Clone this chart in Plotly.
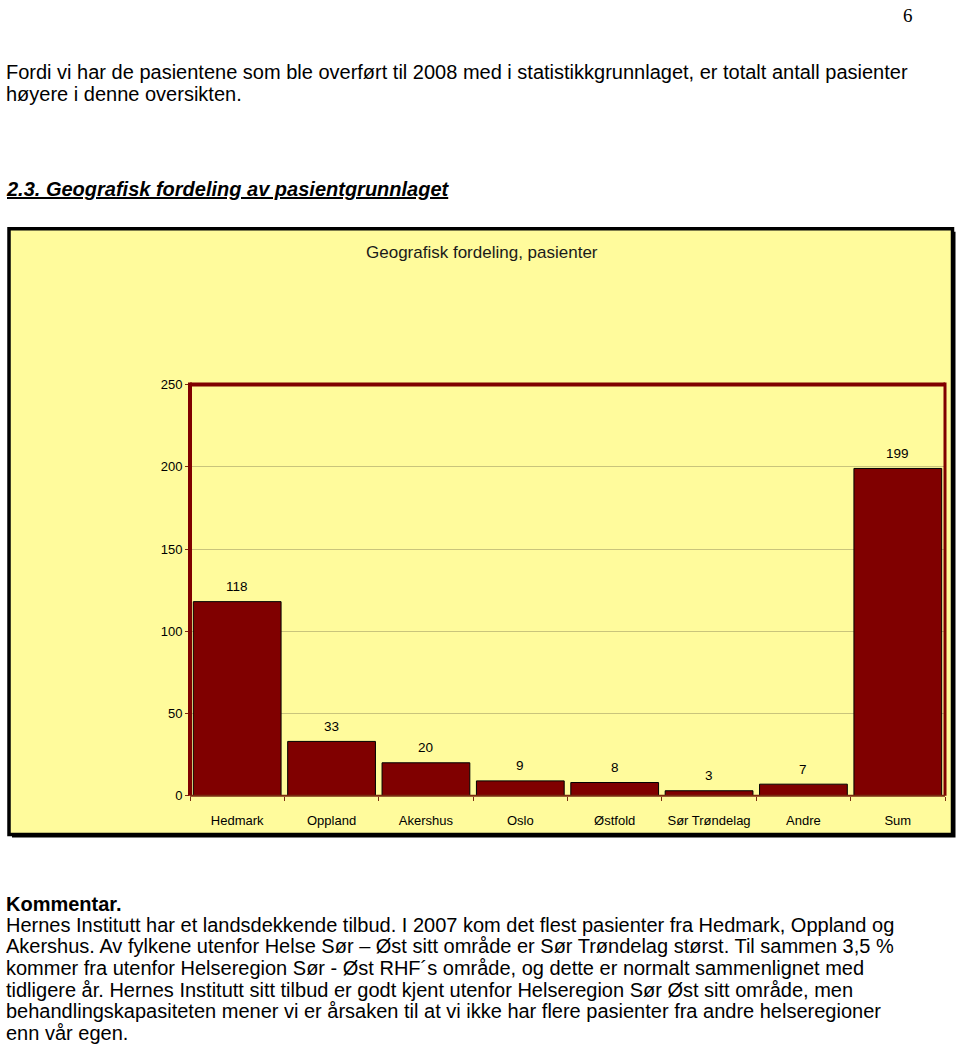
import plotly.graph_objects as go

# ---- data ----
categories = ["Hedmark", "Oppland", "Akershus", "Oslo", "Østfold", "Sør Trøndelag", "Andre", "Sum"]
values = [118, 33, 20, 9, 8, 3, 7, 199]
y_ticks = [0, 50, 100, 150, 200, 250]
chart_title = "Geografisk fordeling, pasienter"

page_number = "6"
intro_lines = [
    "Fordi vi har de pasientene som ble overført til 2008 med i statistikkgrunnlaget, er totalt antall pasienter",
    "høyere i denne oversikten.",
]
heading = "2.3. Geografisk fordeling av pasientgrunnlaget"
comment_title = "Kommentar."
comment_lines = [
    "Hernes Institutt har et landsdekkende tilbud. I 2007 kom det flest pasienter fra Hedmark, Oppland og",
    "Akershus. Av fylkene utenfor Helse Sør – Øst sitt område er Sør Trøndelag størst. Til sammen 3,5 %",
    "kommer fra utenfor Helseregion Sør - Øst RHF´s område, og dette er normalt sammenlignet med",
    "tidligere år. Hernes Institutt sitt tilbud er godt kjent utenfor Helseregion Sør Øst sitt område, men",
    "behandlingskapasiteten mener vi er årsaken til at vi ikke har flere pasienter fra andre helseregioner",
    "enn vår egen.",
]

W, H = 960, 1060
def px(x):
    return x / W
def py(y):
    return 1 - y / H

FONT = "Liberation Sans, Arial, sans-serif"
DARKRED = "#800000"
YELLOW = "#FFFB9C"

fig = go.Figure(
    go.Bar(
        x=categories,
        y=values,
        marker=dict(color=DARKRED, line=dict(color="#000000", width=1)),
        hoverinfo="skip",
    )
)

# plot area pixel bounds
PL, PR, PT, PB = 190, 945, 383, 800

shapes = [
    # box shadow
    dict(type="rect", xref="paper", yref="paper", x0=px(12), x1=px(955.5), y0=py(228), y1=py(842.5),
         fillcolor="#000000", line=dict(width=0), layer="below"),
    # chart box
    dict(type="rect", xref="paper", yref="paper", x0=px(9), x1=px(952.5), y0=py(225), y1=py(839.5),
         fillcolor=YELLOW, line=dict(color="#000000", width=3.5), layer="below"),
    # plot frame (top, left, right thick; bottom thin)
    dict(type="line", xref="paper", yref="paper", x0=px(PL), x1=px(PR), y0=py(PT), y1=py(PT),
         line=dict(color=DARKRED, width=4), layer="above"),
    dict(type="line", xref="paper", yref="paper", x0=px(PL), x1=px(PL), y0=py(PT - 2), y1=py(PB),
         line=dict(color=DARKRED, width=4), layer="above"),
    dict(type="line", xref="paper", yref="paper", x0=px(PR), x1=px(PR), y0=py(PT - 2), y1=py(PB),
         line=dict(color=DARKRED, width=3), layer="above"),
    dict(type="line", xref="paper", yref="paper", x0=px(PL), x1=px(PR), y0=py(PB), y1=py(PB),
         line=dict(color="#7a2a10", width=2), layer="above"),
]

annotations = []
# data labels
for c, v in zip(categories, values):
    annotations.append(dict(x=c, y=v, xref="x", yref="y", text=str(v), showarrow=False,
                            yanchor="middle", yshift=15,
                            font=dict(family=FONT, size=13.5, color="#000000")))
# chart title
annotations.append(dict(x=px(482), y=py(249), xref="paper", yref="paper", text=chart_title,
                        showarrow=False, xanchor="center", yanchor="middle",
                        font=dict(family=FONT, size=17, color="#1a1a1a")))

# page text
BODY = 20
def page_text(x, y, text, size=BODY, family=FONT, xanchor="left"):
    return dict(x=px(x), y=py(y), xref="paper", yref="paper", text=text, showarrow=False,
                xanchor=xanchor, yanchor="middle",
                font=dict(family=family, size=size, color="#000000"))

annotations.append(page_text(908, 9, page_number, size=19,
                             family="Liberation Serif, Times New Roman, serif", xanchor="center"))
for i, line in enumerate(intro_lines):
    annotations.append(page_text(4, 66 + 22 * i, line))
annotations.append(page_text(4, 184.5, "<b><i><u>" + heading + "</u></i></b>"))
annotations.append(page_text(4, 910, "<b>" + comment_title + "</b>"))
for i, line in enumerate(comment_lines):
    annotations.append(page_text(4, 931 + 21.9 * i, line))

fig.update_layout(
    width=W, height=H,
    margin=dict(l=0, r=0, t=0, b=0),
    paper_bgcolor="#FFFFFF",
    plot_bgcolor="rgba(0,0,0,0)",
    bargap=0.07,
    showlegend=False,
    shapes=shapes,
    annotations=annotations,
    xaxis=dict(
        domain=[px(PL), px(PR)],
        type="category",
        showgrid=False, showline=False, zeroline=False,
        ticks="outside", tickson="boundaries", ticklen=4, tickcolor="#7a2a10", tickwidth=1,
        tickfont=dict(family=FONT, size=13, color="#000000"),
        ticklabelstandoff=15,
        fixedrange=True,
    ),
    yaxis=dict(
        domain=[py(PB), py(PT)],
        range=[0, 250],
        tickvals=y_ticks,
        showgrid=True, gridcolor="#c9c47c", gridwidth=1,
        showline=False, zeroline=False,
        ticks="outside", ticklen=4, tickcolor="#7a2a10", tickwidth=1,
        tickfont=dict(family=FONT, size=13, color="#000000"),
        fixedrange=True,
    ),
)

fig.write_html("out.html")
